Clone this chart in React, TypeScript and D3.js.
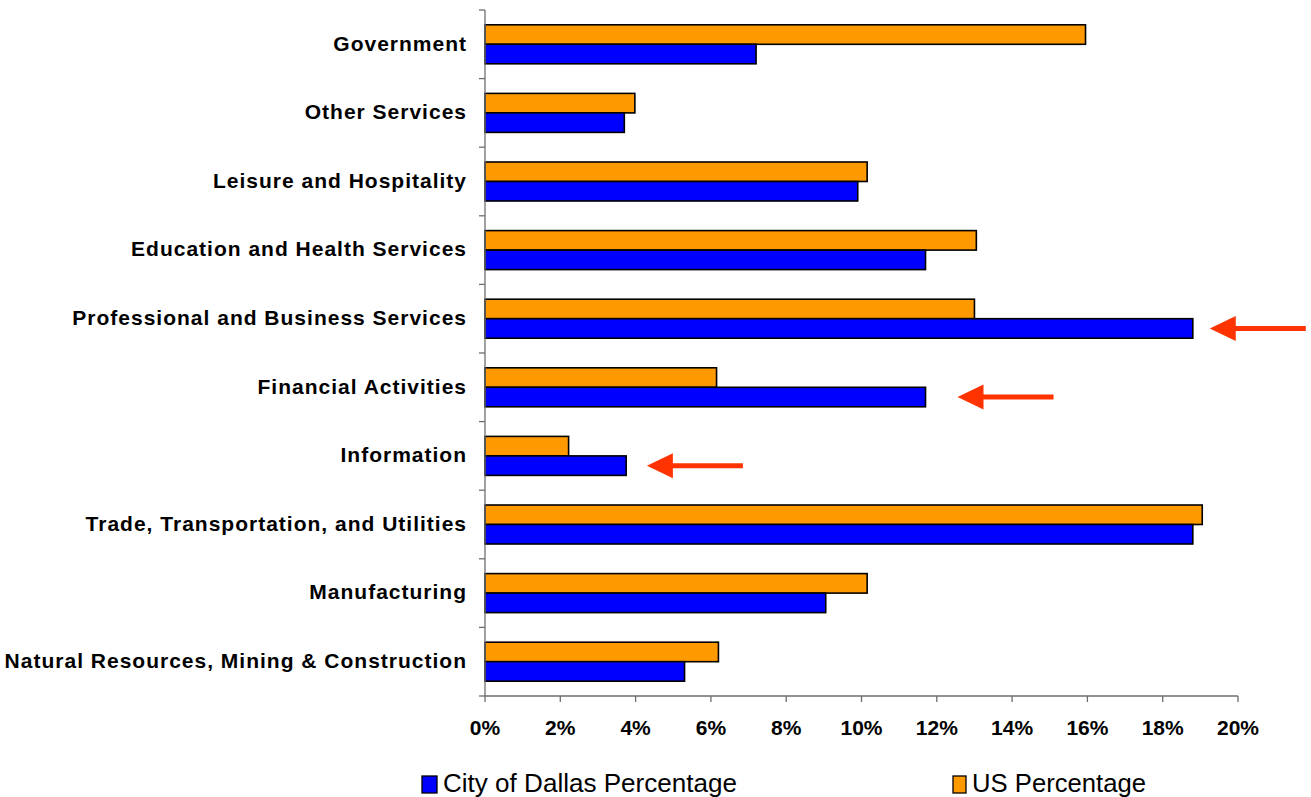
import React from "react";
import * as d3 from "d3";

const categories = [
  "Government",
  "Other Services",
  "Leisure and Hospitality",
  "Education and Health Services",
  "Professional and Business Services",
  "Financial Activities",
  "Information",
  "Trade, Transportation, and Utilities",
  "Manufacturing",
  "Natural Resources, Mining & Construction",
];
const dallasPct = [7.2, 3.7, 9.9, 11.7, 18.8, 11.7, 3.75, 18.8, 9.05, 5.3];
const usPct = [15.95, 3.98, 10.15, 13.05, 13.0, 6.15, 2.22, 19.05, 10.15, 6.2];
const xTicks = [0, 2, 4, 6, 8, 10, 12, 14, 16, 18, 20];
const seriesNames = ["City of Dallas Percentage", "US Percentage"];
// arrow annotations: category, tip value (%), tail value (%)
const arrowCats = ["Professional and Business Services", "Financial Activities", "Information"];
const arrowTips = [19.25, 12.55, 4.3];
const arrowTails = [21.8, 15.1, 6.85];

const W = 1311;
const H = 797;
const BLUE = "#0000FF";
const ORANGE = "#FF9900";
const ARROW = "#FF3300";
const FONT = "'Liberation Sans', Arial, Helvetica, sans-serif";

export default function App() {
  const x = d3.scaleLinear().domain([0, 20]).range([485, 1238]);
  const y = d3.scaleBand<string>().domain(categories).range([10, 696]).padding(0);
  const bw = y.bandwidth();
  const inner = d3
    .scaleBand<string>()
    .domain(["us", "dallas"])
    .range([bw / 2 - 19.5, bw / 2 + 19.5])
    .padding(0);
  const boundaries = d3.range(categories.length + 1).map((i) => 10 + i * bw);

  return (
    <svg
      width={W}
      height={H}
      style={{ position: "absolute", left: 0, top: 0, background: "#fff" }}
      fontFamily={FONT}
    >
      {/* bars */}
      {categories.map((c, i) => (
        <g key={c} transform={`translate(0,${y(c)})`}>
          <rect
            x={x(0)}
            y={inner("us")}
            width={x(usPct[i]) - x(0)}
            height={inner.bandwidth()}
            fill={ORANGE}
            stroke="#000"
            strokeWidth={1.6}
          />
          <rect
            x={x(0)}
            y={inner("dallas")}
            width={x(dallasPct[i]) - x(0)}
            height={inner.bandwidth()}
            fill={BLUE}
            stroke="#000"
            strokeWidth={1.6}
          />
        </g>
      ))}

      {/* y axis */}
      <line x1={x(0)} x2={x(0)} y1={10} y2={696} stroke="#6e6e6e" strokeWidth={1.3} />
      {boundaries.map((b, i) => (
        <line key={i} x1={x(0) - 6} x2={x(0)} y1={b} y2={b} stroke="#6e6e6e" strokeWidth={1.3} />
      ))}
      {categories.map((c) => (
        <text
          key={c}
          x={467}
          y={(y(c) as number) + bw / 2}
          dy="0.3em"
          textAnchor="end"
          fontSize={21}
          fontWeight="bold"
          letterSpacing={1}
          fill="#000"
        >
          {c}
        </text>
      ))}

      {/* x axis */}
      <line x1={x(0)} x2={x(20)} y1={696} y2={696} stroke="#6e6e6e" strokeWidth={1.3} />
      {xTicks.map((t) => (
        <g key={t}>
          <line x1={x(t)} x2={x(t)} y1={696} y2={702} stroke="#6e6e6e" strokeWidth={1.3} />
          <text x={x(t)} y={735} textAnchor="middle" fontSize={21} fontWeight="bold" fill="#000">
            {t}%
          </text>
        </g>
      ))}

      {/* arrows */}
      {arrowCats.map((c, i) => {
        const cy = (y(c) as number) + (inner("dallas") as number) + inner.bandwidth() / 2;
        const tip = x(arrowTips[i]);
        const tail = x(arrowTails[i]);
        const headLen = 26;
        const headHalf = 12.5;
        return (
          <g key={c}>
            <line x1={tip + headLen - 2} x2={tail} y1={cy} y2={cy} stroke={ARROW} strokeWidth={5} />
            <path
              d={`M${tip},${cy} L${tip + headLen},${cy - headHalf} L${tip + headLen},${cy + headHalf} Z`}
              fill={ARROW}
            />
          </g>
        );
      })}

      {/* legend */}
      <rect x={422} y={776} width={15} height={17} fill={BLUE} stroke="#000" strokeWidth={1.3} />
      <text x={443} y={792} fontSize={25} fill="#000" textLength={294} lengthAdjust="spacingAndGlyphs">
        {seriesNames[0]}
      </text>
      <rect x={953} y={776} width={13} height={17} fill={ORANGE} stroke="#000" strokeWidth={1.3} />
      <text x={972} y={792} fontSize={25} fill="#000" textLength={174} lengthAdjust="spacingAndGlyphs">
        {seriesNames[1]}
      </text>
    </svg>
  );
}
